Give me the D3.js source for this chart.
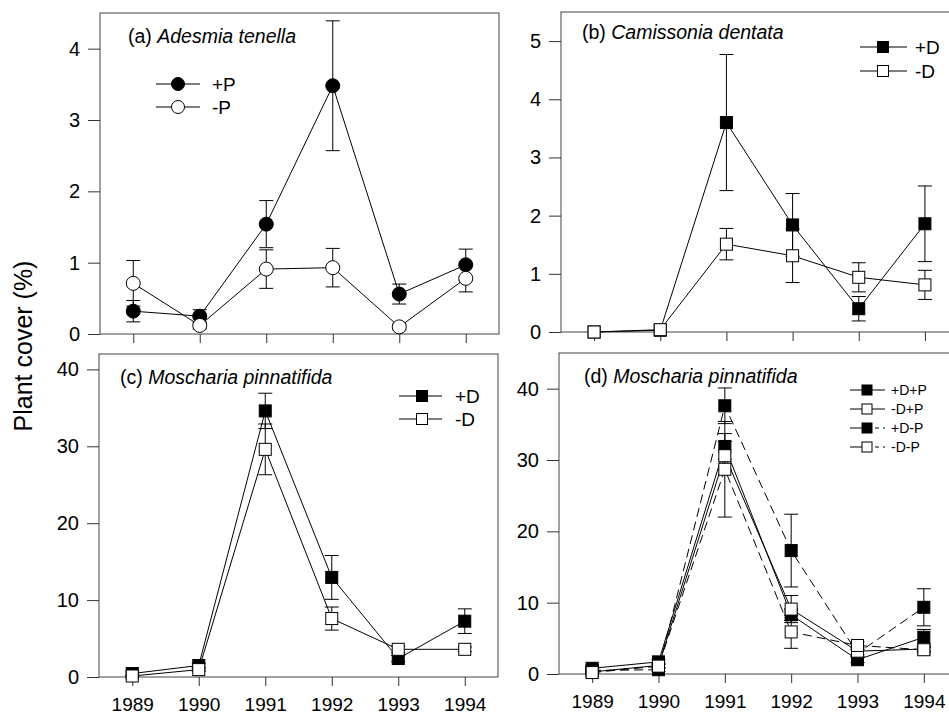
<!DOCTYPE html>
<html>
<head>
<meta charset="utf-8">
<script src="https://cdn.jsdelivr.net/npm/d3@7"></script>
<style>
  body { margin: 0; background: #fff; }
  svg { display: block; font-family: "Liberation Sans", Arial, sans-serif; }
</style>
</head>
<body>
<script>
// Years on the x axis
const years = [1989, 1990, 1991, 1992, 1993, 1994];

// (a) Adesmia tenella
const aPlusP = [0.32, 0.25, 1.54, 3.48, 0.56, 0.97];
const aPlusPErr = [0.15, 0.09, 0.33, 0.91, 0.14, 0.22];
const aMinusP = [0.71, 0.12, 0.91, 0.93, 0.10, 0.78];
const aMinusPErr = [0.32, 0.05, 0.27, 0.27, 0.04, 0.19];

// (b) Camissonia dentata
const bPlusD = [0.0, 0.03, 3.60, 1.84, 0.40, 1.86];
const bPlusDErr = [0, 0, 1.17, 0.54, 0.21, 0.65];
const bMinusD = [0.0, 0.04, 1.51, 1.31, 0.94, 0.81];
const bMinusDErr = [0, 0, 0.27, 0.46, 0.25, 0.25];

// (c) Moscharia pinnatifida, herbivore treatment
const cPlusD = [0.45, 1.5, 34.6, 12.95, 2.4, 7.26];
const cPlusDErr = [0.2, 0.3, 2.3, 2.85, 0.4, 1.6];
const cMinusD = [0.13, 0.96, 29.6, 7.6, 3.6, 3.6];
const cMinusDErr = [0.1, 0.2, 3.3, 1.5, 0.4, 0.3];

// (d) Moscharia pinnatifida, both treatments
const dPlusDPlusP = [0.8, 1.7, 31.9, 8.3, 2.0, 5.15];
const dPlusDPlusPErr = [0.2, 0.3, 1.8, 0.8, 0.4, 1.1];
const dMinusDPlusP = [0.3, 1.2, 30.6, 9.1, 3.2, 3.5];
const dMinusDPlusPErr = [0.1, 0.3, 2.0, 1.9, 0.5, 0.3];
const dPlusDMinusP = [0.5, 0.6, 37.6, 17.3, 2.9, 9.35];
const dPlusDMinusPErr = [0.2, 0.2, 2.5, 5.1, 0.5, 2.6];
const dMinusDMinusP = [0.2, 1.1, 28.7, 5.9, 4.0, 3.4];
const dMinusDMinusPErr = [0.1, 0.2, 6.7, 2.3, 0.5, 0.3];

const yTicksA = [0, 1, 2, 3, 4];
const yTicksB = [0, 1, 2, 3, 4, 5];
const yTicksCD = [0, 10, 20, 30, 40];

const svg = d3.select('body')
    .append('svg')
    .attr('width', 949)
    .attr('height', 714);

const DASH = '9,5';

// Y axis title
svg.append('text')
    .attr('transform', 'translate(32,346) rotate(-90)')
    .attr('text-anchor', 'middle')
    .style('font-size', '25px')
    .text('Plant cover (%)');

function drawPanel(p) {
    const x = d3.scaleLinear().domain([1988.5, 1994.5]).range(p.xr);
    const y = d3.scaleLinear().domain(p.yd).range(p.yr);
    const g = svg.append('g');

    // frame
    g.append('rect')
        .attr('x', p.xr[0]).attr('y', p.yr[1])
        .attr('width', p.xr[1] - p.xr[0]).attr('height', p.yr[0] - p.yr[1])
        .attr('fill', 'none').attr('stroke', '#444').attr('stroke-width', 1);

    // y axis
    const ya = g.append('g')
        .attr('transform', `translate(${p.xr[0]},0)`)
        .call(d3.axisLeft(y).tickValues(p.yTicks).tickSize(12).tickPadding(8).tickFormat(d3.format('d')));
    ya.select('.domain').remove();
    ya.selectAll('text').style('font-size', '20px').attr('fill', '#000').style('font-family', 'inherit');
    ya.selectAll('line').attr('stroke', '#333');

    // x axis
    const xa = g.append('g')
        .attr('transform', `translate(0,${p.yr[0]})`)
        .call(d3.axisBottom(x).tickValues(years).tickSize(9).tickPadding(12).tickFormat(d3.format('d')));
    xa.select('.domain').remove();
    xa.selectAll('text').style('font-size', '19px').attr('fill', '#000').style('font-family', 'inherit');
    if (!p.showYears) xa.selectAll('text').remove();
    xa.selectAll('line').attr('stroke', '#333');

    // title
    const t = g.append('text')
        .attr('x', p.title.x).attr('y', p.title.y)
        .style('font-size', '19.5px');
    t.append('tspan').text(p.title.label + ' ');
    t.append('tspan').style('font-style', 'italic').text(p.title.species);

    const line = d3.line().x((d, i) => x(years[i])).y(d => y(d));

    // lines
    p.series.forEach(s => {
        g.append('path')
            .datum(s.values)
            .attr('d', line)
            .attr('fill', 'none')
            .attr('stroke', '#000')
            .attr('stroke-width', 1)
            .attr('stroke-dasharray', s.dash || null);
    });

    // error bars
    p.series.forEach(s => {
        s.values.forEach((v, i) => {
            const e = s.errors[i];
            if (!e) return;
            const cx = x(years[i]);
            const y1 = y(v - e), y2 = y(v + e);
            g.append('line').attr('x1', cx).attr('x2', cx).attr('y1', y1).attr('y2', y2)
                .attr('stroke', '#000').attr('stroke-width', 1);
            [y1, y2].forEach(yy => {
                g.append('line').attr('x1', cx - 7).attr('x2', cx + 7).attr('y1', yy).attr('y2', yy)
                    .attr('stroke', '#000').attr('stroke-width', 1);
            });
        });
    });

    // markers: filled first, open on top
    const ordered = p.series.filter(s => s.fill === '#000').concat(p.series.filter(s => s.fill !== '#000'));
    ordered.forEach(s => {
        s.values.forEach((v, i) => {
            marker(g, s, x(years[i]), y(v), s.shape === 'circle' ? 7 : 12);
        });
    });

    // legend
    const L = p.legend;
    p.series.forEach((s, k) => {
        const ly = L.y0 + k * L.dy;
        g.append('line')
            .attr('x1', L.x1).attr('x2', L.mx).attr('y1', ly).attr('y2', ly)
            .attr('stroke', '#000').attr('stroke-width', 1);
        g.append('line')
            .attr('x1', L.mx).attr('x2', L.x2).attr('y1', ly).attr('y2', ly)
            .attr('stroke', '#000').attr('stroke-width', 1)
            .attr('stroke-dasharray', s.dash ? '4,4' : null);
        marker(g, s, L.mx, ly, L.size);
        g.append('text')
            .attr('x', L.tx).attr('y', ly).attr('dy', '0.35em')
            .style('font-size', L.font + 'px')
            .text(s.name);
    });
}

function marker(g, s, cx, cy, size) {
    if (s.shape === 'circle') {
        g.append('circle')
            .attr('cx', cx).attr('cy', cy).attr('r', size)
            .attr('fill', s.fill).attr('stroke', '#000').attr('stroke-width', 1);
    } else {
        g.append('rect')
            .attr('x', cx - size / 2).attr('y', cy - size / 2)
            .attr('width', size).attr('height', size)
            .attr('fill', s.fill).attr('stroke', '#000').attr('stroke-width', 1);
    }
}

drawPanel({
    xr: [100, 499], yr: [334, 13], yd: [0, 4.5], yTicks: yTicksA, showYears: false,
    title: { x: 128, y: 43, label: '(a)', species: 'Adesmia tenella' },
    series: [
        { name: '+P', values: aPlusP, errors: aPlusPErr, shape: 'circle', fill: '#000' },
        { name: '-P', values: aMinusP, errors: aMinusPErr, shape: 'circle', fill: '#fff' }
    ],
    legend: { x1: 156, mx: 178, x2: 200, tx: 212, y0: 84, dy: 23, size: 6.5, font: 19 }
});

drawPanel({
    xr: [561, 958], yr: [332, 12], yd: [0, 5.5], yTicks: yTicksB, showYears: false,
    title: { x: 582, y: 39, label: '(b)', species: 'Camissonia dentata' },
    series: [
        { name: '+D', values: bPlusD, errors: bPlusDErr, shape: 'square', fill: '#000' },
        { name: '-D', values: bMinusD, errors: bMinusDErr, shape: 'square', fill: '#fff' }
    ],
    legend: { x1: 860, mx: 883, x2: 907, tx: 915, y0: 47, dy: 24, size: 11, font: 19 }
});

drawPanel({
    xr: [99, 498], yr: [677, 354], yd: [0, 42], yTicks: yTicksCD, showYears: true,
    title: { x: 120, y: 384, label: '(c)', species: 'Moscharia pinnatifida' },
    series: [
        { name: '+D', values: cPlusD, errors: cPlusDErr, shape: 'square', fill: '#000' },
        { name: '-D', values: cMinusD, errors: cMinusDErr, shape: 'square', fill: '#fff' }
    ],
    legend: { x1: 399, mx: 422, x2: 442, tx: 455, y0: 396, dy: 23, size: 11, font: 19 }
});

drawPanel({
    xr: [559, 957], yr: [674, 353], yd: [0, 45], yTicks: yTicksCD, showYears: true,
    title: { x: 584, y: 383, label: '(d)', species: 'Moscharia pinnatifida' },
    series: [
        { name: '+D+P', values: dPlusDPlusP, errors: dPlusDPlusPErr, shape: 'square', fill: '#000' },
        { name: '-D+P', values: dMinusDPlusP, errors: dMinusDPlusPErr, shape: 'square', fill: '#fff' },
        { name: '+D-P', values: dPlusDMinusP, errors: dPlusDMinusPErr, shape: 'square', fill: '#000', dash: DASH },
        { name: '-D-P', values: dMinusDMinusP, errors: dMinusDMinusPErr, shape: 'square', fill: '#fff', dash: DASH }
    ],
    legend: { x1: 850, mx: 867, x2: 885, tx: 891, y0: 390, dy: 19, size: 10, font: 14 }
});
</script>
</body>
</html>
